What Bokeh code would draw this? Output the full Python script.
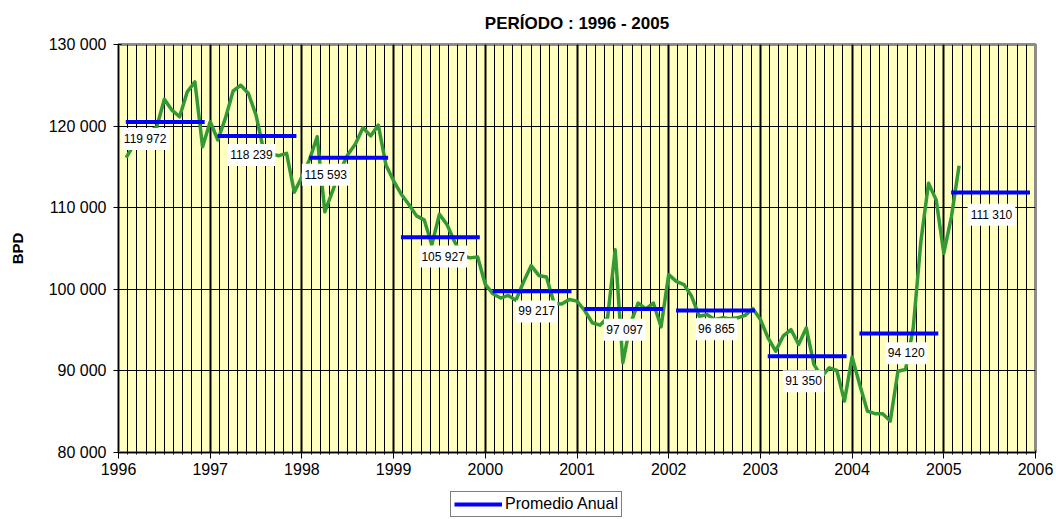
import numpy as np
from bokeh.plotting import figure
from bokeh.layouts import column
from bokeh.models import (Range1d, FixedTicker, ColumnDataSource,
                          Legend, LegendItem)
from bokeh.core.properties import value
from bokeh.embed import file_html
from bokeh.resources import INLINE

# ---------------- data ----------------
title_text = "PERÍODO : 1996 - 2005"
y_axis_label = "BPD"
legend_label = "Promedio Anual"

start_year = 1996
bpd_1996 = [116130, 117700, 118600, 119300, 119900, 123300, 121950, 121140, 124200, 125420, 117475, 120530]
bpd_1997 = [118300, 121000, 124300, 125010, 124000, 121340, 117000, 116540, 116375, 116660, 111900, 113800]
bpd_1998 = [115900, 118700, 109500, 112000, 114500, 116500, 117800, 119800, 118800, 120120, 115230, 113300]
bpd_1999 = [111650, 110400, 109000, 108510, 105460, 109200, 107900, 105800, 104100, 103850, 103950, 100600]
bpd_2000 = [99450, 98930, 99250, 98640, 100900, 102900, 101700, 101500, 98300, 98200, 98740, 98550]
bpd_2001 = [97400, 95900, 95600, 96500, 104850, 91000, 95800, 98300, 97600, 98300, 95400, 101800]
bpd_2002 = [100970, 100570, 99140, 96690, 96900, 96300, 96500, 96400, 96500, 96800, 97640, 96300]
bpd_2003 = [94040, 92420, 94300, 95070, 93230, 95270, 90800, 89300, 90380, 90050, 86300, 91700]
bpd_2004 = [88300, 85080, 84760, 84760, 83860, 89960, 90170, 95270, 105860, 112990, 110960, 104430]
bpd_2005 = [108910, 115150]

years = [1996, 1997, 1998, 1999, 2000, 2001, 2002, 2003, 2004, 2005]
annual_avg = [119972, 118239, 115593, 105927, 99217, 97097, 96865, 91350, 94120, 111310]
# level at which each annual average line is drawn in the picture
annual_line_level = [120490, 118780, 116130, 106390, 99750, 97590, 97390, 91810, 94580, 111850]

x_ticks = [1996, 1997, 1998, 1999, 2000, 2001, 2002, 2003, 2004, 2005, 2006]
x_tick_labels = ["1996", "1997", "1998", "1999", "2000", "2001", "2002", "2003", "2004", "2005", "2006"]
y_ticks = [80000, 90000, 100000, 110000, 120000, 130000]
y_tick_labels = ["80 000", "90 000", "100 000", "110 000", "120 000", "130 000"]

# layout: where each average label box is centred (data units)
label_x = [1996.29, 1997.45, 1998.26, 1999.54, 2000.56, 2001.52, 2002.52, 2003.47, 2004.59, 2005.52]
label_y = [118430, 116470, 114030, 104010, 97290, 95030, 95090, 88730, 92150, 109140]

# ---------------- build ----------------
monthly = (bpd_1996 + bpd_1997 + bpd_1998 + bpd_1999 + bpd_2000 + bpd_2001 +
           bpd_2002 + bpd_2003 + bpd_2004 + bpd_2005)
t = [start_year + (i + 1) / 12.0 for i in range(len(monthly))]

FONT = "Liberation Sans"

p = figure(width=1056, height=490,
           x_range=Range1d(1996, 2006), y_range=Range1d(80000, 130000),
           output_backend="svg", toolbar_location=None,
           min_border_left=118, min_border_right=21,
           min_border_top=43, min_border_bottom=38,
           background_fill_color="#FFFFC0", border_fill_color="white")

p.title.text = title_text
p.title.align = "center"
p.title.text_font = FONT
p.title.text_font_size = "17px"
p.title.text_font_style = "bold"
p.title.text_color = "black"
p.title.standoff = 23

p.outline_line_color = "#8c8c8c"
p.outline_line_width = 3

minor = [float(v) for v in np.round(np.arange(1996, 2006.001, 0.1), 3)]

p.xgrid.ticker = FixedTicker(ticks=x_ticks, minor_ticks=minor)
p.xgrid.grid_line_color = "black"
p.xgrid.grid_line_width = 2
p.xgrid.minor_grid_line_color = "black"
p.xgrid.minor_grid_line_width = 1
p.ygrid.ticker = FixedTicker(ticks=y_ticks)
p.ygrid.grid_line_color = "black"
p.ygrid.grid_line_width = 1

p.xaxis.ticker = FixedTicker(ticks=x_ticks, minor_ticks=minor)
p.xaxis.major_label_overrides = dict(zip(x_ticks, x_tick_labels))
p.yaxis.ticker = FixedTicker(ticks=y_ticks)
p.yaxis.major_label_overrides = dict(zip(y_ticks, y_tick_labels))

for ax in (p.xaxis, p.yaxis):
    ax.axis_line_color = "black"
    ax.axis_line_width = 1
    ax.major_tick_line_color = "black"
    ax.major_label_text_font = FONT
    ax.major_label_text_font_size = "16px"
    ax.major_label_text_color = "black"

p.xaxis.major_tick_out = 6
p.xaxis.major_tick_in = 0
p.xaxis.minor_tick_out = 2
p.xaxis.minor_tick_in = 2
p.xaxis.minor_tick_line_color = "black"
p.xaxis.major_label_standoff = 4

p.yaxis.major_tick_out = 5
p.yaxis.major_tick_in = 3
p.yaxis.minor_tick_line_color = None
p.yaxis.major_label_standoff = 7
p.yaxis.axis_label = y_axis_label
p.yaxis.axis_label_text_font = FONT
p.yaxis.axis_label_text_font_size = "15px"
p.yaxis.axis_label_text_font_style = "bold"
p.yaxis.axis_label_text_color = "black"
p.yaxis.axis_label_standoff = 20

# monthly series
p.line(t, monthly, line_color="#339933", line_width=3.5, line_join="round")

# annual averages
avg_src = ColumnDataSource(dict(
    x0=[y + 0.08 for y in years],
    x1=[y + 0.94 for y in years],
    y=annual_line_level,
))
avg_style = dict(line_color="#0000FF", line_width=4)
p.segment(x0="x0", y0="y", x1="x1", y1="y", source=avg_src, **avg_style)

label_text = [f"{v:,}".replace(",", " ") for v in annual_avg]
lbl_src = ColumnDataSource(dict(
    x=label_x, y=label_y, text=label_text,
    w=[len(s) * 6.4 + 3 for s in label_text],
))
p.rect(x="x", y="y", width="w", height=22, width_units="screen",
       height_units="screen", source=lbl_src, fill_color="white",
       line_color=None)
p.text(x="x", y="y", text="text", source=lbl_src,
       text_align="center", text_baseline="middle",
       text_font=value(FONT), text_font_size="12px", text_color="black")

# ---------------- legend strip under the chart ----------------
p2 = figure(width=1056, height=29, x_range=Range1d(0, 1), y_range=Range1d(0, 1),
            x_axis_type=None, y_axis_type=None,
            output_backend="svg", toolbar_location=None, min_border=0,
            background_fill_color="white", border_fill_color="white")
p2.outline_line_color = None
# same average series (falls outside this strip's range, so only its key shows)
seg2 = p2.segment(x0="x0", y0="y", x1="x1", y1="y", source=avg_src, **avg_style)

legend = Legend(items=[LegendItem(label=legend_label, renderers=[seg2])],
                location=(332, 2), orientation="horizontal",
                border_line_color="black", border_line_width=1,
                background_fill_color="white", background_fill_alpha=1,
                label_text_font=FONT, label_text_font_size="16px",
                label_text_color="black",
                glyph_width=48, glyph_height=16, label_height=16,
                label_standoff=3, padding=3, margin=0, spacing=0)
p2.add_layout(legend)

layout = column(p, p2, spacing=0)

open("out.html", "w").write(file_html(layout, INLINE))
